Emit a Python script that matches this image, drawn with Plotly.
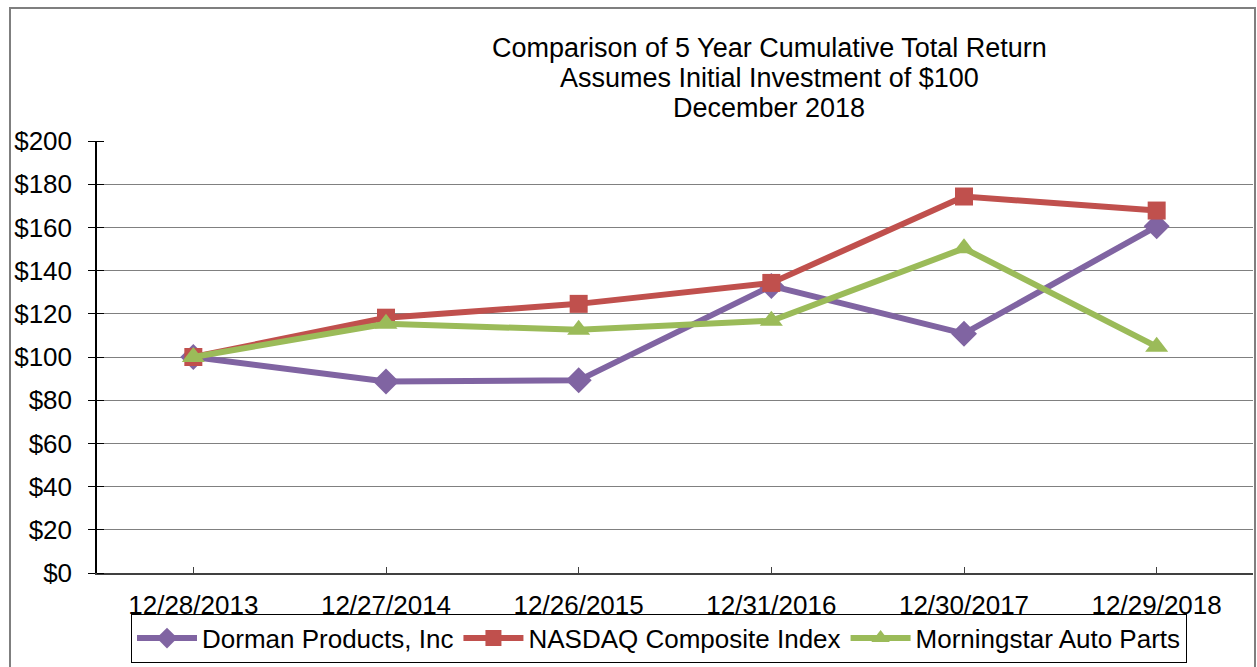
import plotly.graph_objects as go

dates = ["12/28/2013", "12/27/2014", "12/26/2015", "12/31/2016", "12/30/2017", "12/29/2018"]
dorman = [100, 88.7, 89.2, 132.9, 110.8, 160.5]
nasdaq = [100, 118.2, 124.6, 134.3, 174.3, 167.8]
morningstar = [100, 115.4, 112.6, 116.8, 150.3, 104.8]
y_ticks = [0, 20, 40, 60, 80, 100, 120, 140, 160, 180, 200]
y_labels = ["$%d" % v for v in y_ticks]
title_lines = ["Comparison of 5 Year Cumulative Total Return",
               "Assumes Initial Investment of $100",
               "December 2018"]

FONT = "Liberation Sans, Arial, sans-serif"
FS = 26

fig = go.Figure()
fig.add_trace(go.Scatter(x=dates, y=dorman, name="Dorman Products, Inc", mode="lines+markers",
                         line=dict(color="#8064A2", width=6),
                         marker=dict(symbol="diamond", size=20, color="#8064A2")))
fig.add_trace(go.Scatter(x=dates, y=nasdaq, name="NASDAQ Composite Index", mode="lines+markers",
                         line=dict(color="#C0504D", width=6),
                         marker=dict(symbol="square", size=18, color="#C0504D")))
fig.add_trace(go.Scatter(x=dates, y=morningstar, name="Morningstar Auto Parts", mode="lines+markers",
                         line=dict(color="#9BBB59", width=6),
                         marker=dict(symbol="triangle-up", size=20, color="#9BBB59")))

L, R, T, B = 97, 4, 141, 91
W, H = 1257, 667
pw, ph = W - L - R, H - T - B

def px_x(p):
    return (p - L) / pw

def px_y(p):
    return (H - B - p) / ph

for txt, yc in zip(title_lines, [47, 78, 108]):
    fig.add_annotation(text=txt, xref="paper", yref="paper", x=px_x(769), y=px_y(yc),
                       xanchor="center", yanchor="middle", showarrow=False,
                       font=dict(family=FONT, size=27, color="black"))

fig.add_shape(type="rect", xref="paper", yref="paper",
              x0=px_x(10), x1=px_x(1255), y0=px_y(7), y1=px_y(700),
              line=dict(color="#7f7f7f", width=2), layer="below")

fig.update_layout(
    width=W, height=H,
    margin=dict(l=L, r=R, t=T, b=B),
    paper_bgcolor="white", plot_bgcolor="white",
    font=dict(family=FONT, size=FS, color="black"),
    showlegend=True,
    legend=dict(orientation="h", x=px_x(131), y=px_y(617), xanchor="left", yanchor="top",
                bordercolor="black", borderwidth=1, bgcolor="white",
                font=dict(family=FONT, size=FS, color="black"), itemwidth=60,
                tracegroupgap=0),
    xaxis=dict(type="category", showgrid=False, showline=True, linecolor="#404040", linewidth=1.5,
               ticks="inside", ticklen=6, tickcolor="#404040", tickfont=dict(size=FS),
               ticklabelstandoff=8, range=[-0.5, 5.5], zeroline=False),
    yaxis=dict(range=[0, 200], tickvals=y_ticks, ticktext=y_labels, showgrid=True,
               gridcolor="#808080", gridwidth=1, showline=True, linecolor="black", linewidth=1.5,
               ticks="outside", ticklen=7, tickcolor="black", zeroline=False,
               ticklabelstandoff=11, tickfont=dict(size=FS),
               minor=dict(tickvals=[v + 0.001 for v in y_ticks], ticks="inside", ticklen=7,
                          tickcolor="black", showgrid=False)),
)

fig.write_html("out.html")
